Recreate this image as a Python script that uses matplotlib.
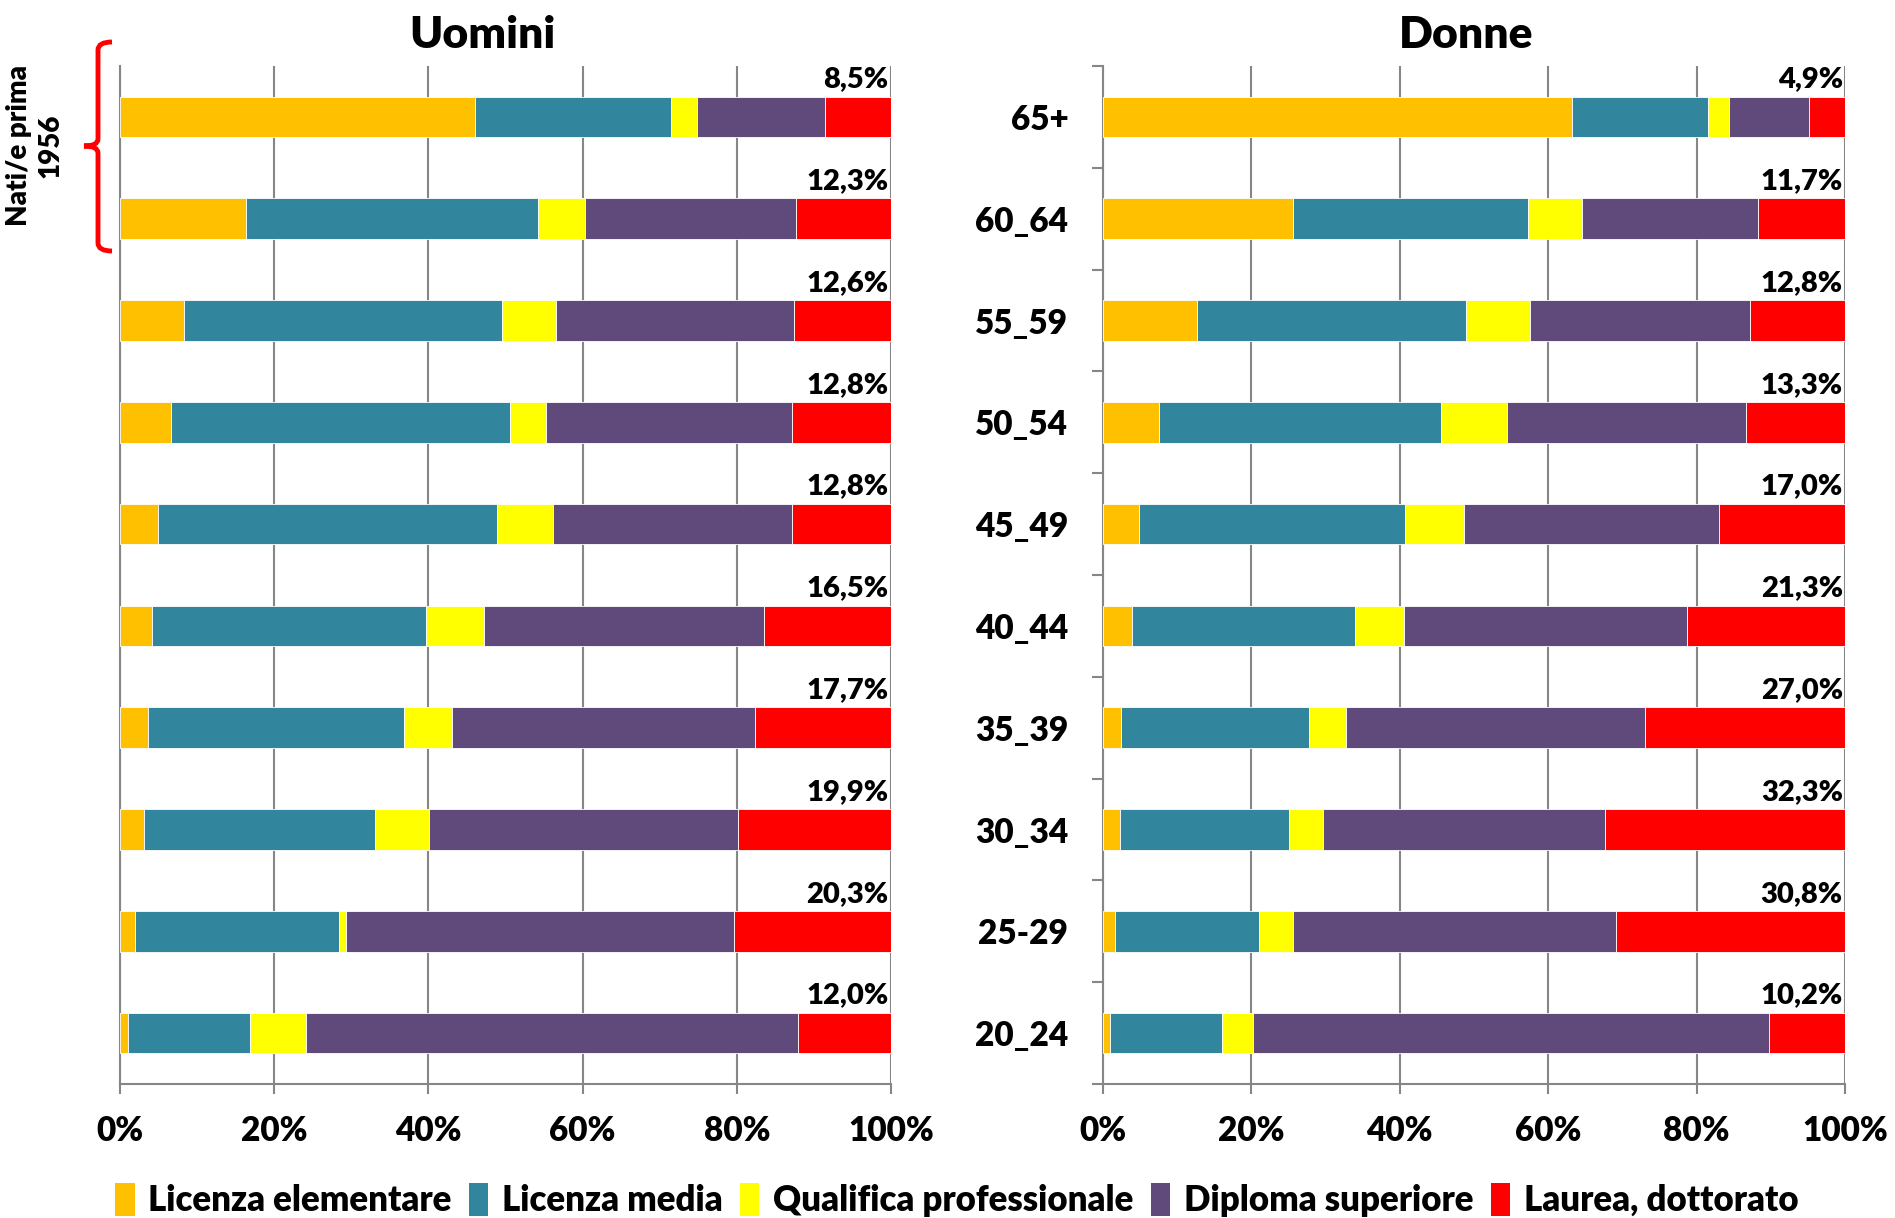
import numpy as np
import matplotlib.pyplot as plt
from matplotlib.path import Path
from matplotlib.patches import PathPatch, Patch

plt.rcParams['font.family'] = ['Lato', 'DejaVu Sans']
plt.rcParams['font.weight'] = 'bold'

# age classes, top to bottom
classi = ['65+', '60_64', '55_59', '50_54', '45_49', '40_44', '35_39', '30_34', '25-29', '20_24']

livelli = ['Licenza elementare', 'Licenza media', 'Qualifica professionale',
           'Diploma superiore', 'Laurea, dottorato']
colori = ['#FFC000', '#31859C', '#FFFF00', '#604A7B', '#FF0000']

# Uomini (%)
u_elem = [46.1, 16.3, 8.3, 6.6, 4.9, 4.1, 3.6, 3.1, 2.0, 1.1]
u_media = [25.4, 37.9, 41.2, 44.0, 44.0, 35.6, 33.2, 30.0, 26.4, 15.8]
u_qual = [3.4, 6.1, 7.1, 4.6, 7.2, 7.5, 6.3, 7.0, 0.9, 7.2]
u_dipl = [16.6, 27.4, 30.8, 32.0, 31.1, 36.3, 39.2, 40.0, 50.4, 63.9]
u_laurea = [8.5, 12.3, 12.6, 12.8, 12.8, 16.5, 17.7, 19.9, 20.3, 12.0]

# Donne (%)
d_elem = [63.2, 25.6, 12.7, 7.5, 4.9, 3.9, 2.4, 2.3, 1.6, 1.0]
d_media = [18.4, 31.7, 36.2, 38.1, 35.8, 30.1, 25.3, 22.8, 19.4, 15.0]
d_qual = [2.8, 7.2, 8.6, 8.8, 8.0, 6.6, 5.0, 4.5, 4.6, 4.2]
d_dipl = [10.7, 23.8, 29.7, 32.3, 34.3, 38.1, 40.3, 38.1, 43.6, 69.6]
d_laurea = [4.9, 11.7, 12.8, 13.3, 17.0, 21.3, 27.0, 32.3, 30.8, 10.2]

W, H = 1895, 1218
fig = plt.figure(figsize=(W / 100, H / 100), dpi=100)
grigio = '#868686'


def pannello(ax, serie, titolo, tx, etichette):
    y = np.arange(len(classi))
    left = np.zeros(len(classi))
    for vals, col in zip(serie, colori):
        ax.barh(y, vals, left=left, height=0.4, color=col, edgecolor='white', linewidth=0.6, zorder=3)
        left += np.array(vals)
    # labels of the last class (laurea) above each bar
    for i, v in enumerate(serie[-1]):
        ax.text(99.7, i - 0.29, f'{v:.1f}%'.replace('.', ','), ha='right', va='baseline',
                fontsize=21, fontweight='heavy', zorder=4)
    ax.set_xlim(0, 100)
    ax.set_ylim(len(classi) - 0.5, -0.5)
    ax.set_xticks(np.arange(0, 101, 20))
    ax.set_xticklabels([f'{t}%' for t in range(0, 101, 20)], fontsize=24, fontweight='heavy')
    ax.xaxis.grid(True, color=grigio, linewidth=1.5, zorder=0)
    ax.tick_params(axis='x', length=7, width=1.5, color=grigio, pad=15)
    for s in ['top', 'right']:
        ax.spines[s].set_visible(False)
    for s in ['bottom', 'left']:
        ax.spines[s].set_color(grigio)
        ax.spines[s].set_linewidth(1.5)
    ax.set_yticks(y)
    if etichette:
        ax.set_yticklabels(classi, fontsize=24, fontweight='heavy')
        ax.set_yticks(np.arange(len(classi) + 1) - 0.5, minor=True)
        ax.tick_params(axis='y', which='major', length=0, pad=25)
        ax.tick_params(axis='y', which='minor', length=8, width=1.5, color=grigio)
    else:
        ax.set_yticklabels([])
        ax.tick_params(axis='y', length=0)
    ax.set_title(titolo, fontsize=32, fontweight='heavy', pad=13, x=tx)


ax1 = fig.add_axes([120 / W, 1 - 1084 / H, 771 / W, 1018 / H])
ax2 = fig.add_axes([1103 / W, 1 - 1084 / H, 742 / W, 1018 / H])
pannello(ax1, [u_elem, u_media, u_qual, u_dipl, u_laurea], 'Uomini', 0.47, False)
pannello(ax2, [d_elem, d_media, d_qual, d_dipl, d_laurea], 'Donne', 0.49, True)

# red brace for the cohort born before 1956 (figure pixels)
def px(x, y):
    return (x / W, 1 - y / H)

verts = [px(112, 42), px(98, 42), px(98, 50), px(98, 139), px(98, 146), px(84, 146),
         px(98, 146), px(98, 153), px(98, 243), px(98, 251), px(112, 251)]
codes = [Path.MOVETO, Path.CURVE3, Path.CURVE3, Path.LINETO, Path.CURVE3, Path.CURVE3,
         Path.CURVE3, Path.CURVE3, Path.LINETO, Path.CURVE3, Path.CURVE3]
fig.add_artist(PathPatch(Path(verts, codes), transform=fig.transFigure, fill=False,
                         edgecolor='#FF0000', linewidth=3.5, capstyle='butt'))
fig.text(35 / W, 1 - 146 / H, 'Nati/e prima\n1956', rotation=90, ha='center', va='center',
         fontsize=20, fontweight='heavy', linespacing=1.25, multialignment='center')

handles = [Patch(facecolor=c, edgecolor='none') for c in colori]
fig.legend(handles, livelli, loc='center', bbox_to_anchor=(0.505, 1 - 1200 / H), ncol=5,
           frameon=False, prop={'size': 25, 'weight': 'heavy'}, handlelength=0.55,
           handleheight=1.1, handletextpad=0.4, columnspacing=0.5)

fig.savefig('out.png', dpi=100)
